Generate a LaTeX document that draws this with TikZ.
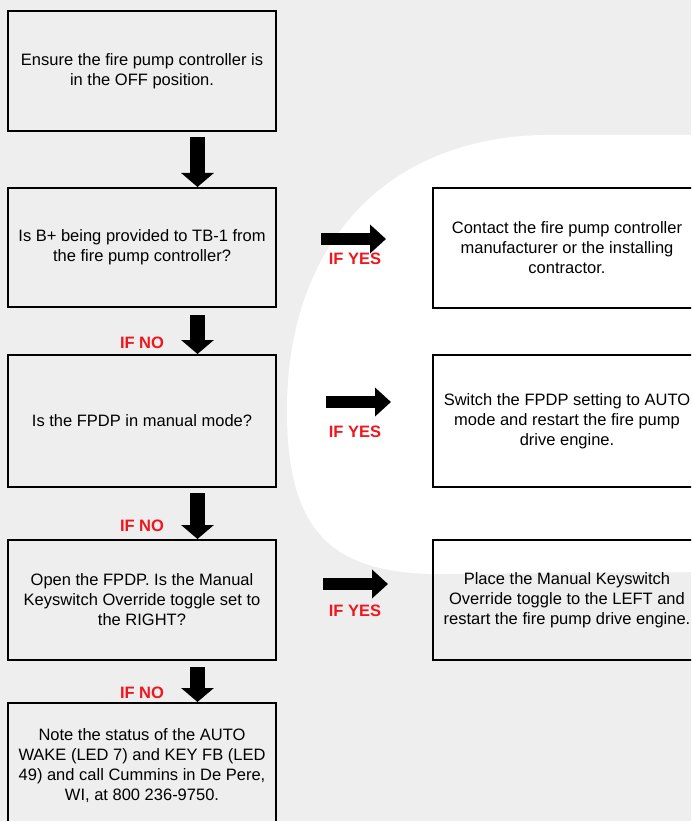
\documentclass[tikz,border=0pt]{standalone}
\usepackage{fontspec}
\setmainfont{Liberation Sans}
\usetikzlibrary{arrows.meta}
\definecolor{bg}{HTML}{EEEEEE}
\definecolor{ifred}{HTML}{F0161E}
\begin{document}
\begin{tikzpicture}[x=1pt,y=-1pt,
  box/.style={draw=black, line width=2pt, minimum width=268pt, align=center,
    font=\fontsize{16.5}{20}\selectfont, inner sep=0pt},
  downarrow/.style={line width=15pt, -{Triangle[width=32pt,length=14pt]}},
  rightarrow/.style={line width=12pt, -{Triangle[width=28pt,length=16pt]}},
  lbl/.style={text=ifred, font=\fontsize{16.5}{20}\selectfont\bfseries, inner sep=0pt}]
\useasboundingbox (0,0) rectangle (691,821);
\clip (0,0) rectangle (691,821);
\fill[bg] (0,0) rectangle (691,821);
% faint watermark
\fill[white] (287,410) .. controls (287,250) and (380,140) .. (540,135)
  -- (691,135) -- (691,572) -- (440,574)
  .. controls (330,574) and (287,530) .. (287,410) -- cycle;

% left column
\node[box, minimum height=120pt] (b1) at (142,71)
  {Ensure the fire pump controller is\\in the OFF position.};
\node[box, minimum height=119pt] (b2) at (142,247.5)
  {Is B+ being provided to TB-1 from\\the fire pump controller?};
\node[box, minimum height=132pt] (b3) at (142,421)
  {Is the FPDP in manual mode?};
\node[box, minimum height=120pt] (b4) at (142,600)
  {Open the FPDP. Is the Manual\\Keyswitch Override toggle set to\\the RIGHT?};
\node[box, minimum height=126pt] (b5) at (142,766)
  {Note the status of the AUTO\\WAKE (LED 7) and KEY FB (LED\\49) and call Cummins in De Pere,\\WI, at 800 236-9750.};

% right column
\node[box, minimum height=120pt] (r1) at (567,247.5)
  {Contact the fire pump controller\\manufacturer or the installing\\contractor.};
\node[box, minimum height=132pt] (r2) at (567,421)
  {Switch the FPDP setting to AUTO\\mode and restart the fire pump\\drive engine.};
\node[box, minimum height=120pt] (r3) at (567,600)
  {Place the Manual Keyswitch\\Override toggle to the LEFT and\\restart the fire pump drive engine.};

% down arrows
\coordinate (d1) at (197.5,137);
\coordinate (d2) at (197.5,315);
\coordinate (d3) at (197.5,493);
\coordinate (d4) at (197.5,667);
\draw[downarrow] (d1) -- (d1 |- b2.north);
\draw[downarrow] (d2) -- (d2 |- b3.north);
\draw[downarrow] (d3) -- (d3 |- b4.north);
\draw[downarrow] (d4) -- (d4 |- b5.north);

% right arrows
\coordinate (e1a) at (321,239); \coordinate (e1b) at (386,239);
\coordinate (e2a) at (326,402); \coordinate (e2b) at (391,402);
\coordinate (e3a) at (323,584); \coordinate (e3b) at (388,584);
\draw[rightarrow] (e1a) -- (e1b);
\draw[rightarrow] (e2a) -- (e2b);
\draw[rightarrow] (e3a) -- (e3b);

% labels
\node[lbl] (y1) at (355,259) {IF YES};
\node[lbl] (y2) at (355,432) {IF YES};
\node[lbl] (y3) at (355,611) {IF YES};
\node[lbl] (n1) at (142,343) {IF NO};
\node[lbl] (n2) at (142,526) {IF NO};
\node[lbl] (n3) at (142,693) {IF NO};
\end{tikzpicture}
\end{document}
